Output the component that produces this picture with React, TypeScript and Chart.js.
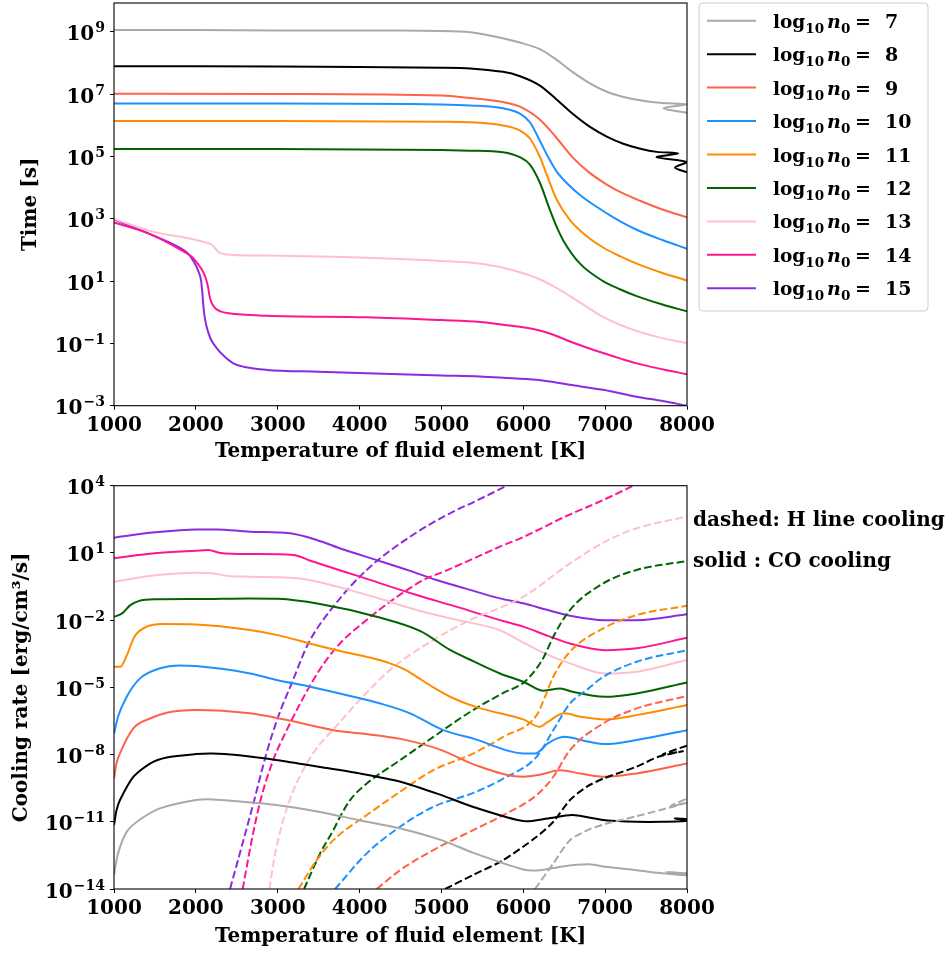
import React, { useEffect, useRef } from "react";
import { Chart, registerables } from "chart.js";

Chart.register(...registerables);

const FONT_FAMILY = '"DejaVu Serif", "Liberation Serif", serif';

// ---- categories / labels ----
const DENSITIES = [7, 8, 9, 10, 11, 12, 13, 14, 15];
const COLORS = ["#a9a9a9", "#000000", "#ff6347", "#1e90ff", "#ff8c00", "#006400", "#ffc0cb", "#ff1493", "#8a2be2"];
const X_TICKS = [1000, 2000, 3000, 4000, 5000, 6000, 7000, 8000];
const TIME_TICK_EXPONENTS = [-3, -1, 1, 3, 5, 7, 9];
const RATE_TICK_EXPONENTS = [-14, -11, -8, -5, -2, 1, 4];
const X_TITLE = "Temperature of fluid element [K]";
const TIME_TITLE = "Time [s]";
const RATE_TITLE = "Cooling rate [erg/cm\u00b3/s]";
const NOTE_DASHED = "dashed: H line cooling";
const NOTE_SOLID = "solid : CO cooling";

type Pt = [number, number]; // [temperature (K), log10 of value]

// ---- top panel: time [s] (log10) ----
const time7: Pt[] = [[1000, 9.06], [2000, 9.06], [3000, 9.05], [4000, 9.05], [5000, 9.03], [5350, 8.99], [5750, 8.8], [5960, 8.66], [6204, 8.45], [6400, 8.12], [6600, 7.72], [6815, 7.35], [7020, 7.08], [7200, 6.93], [7426, 6.81], [7700, 6.72], [8000, 6.68], [7710, 6.55], [8000, 6.4]];
const time8: Pt[] = [[1000, 7.9], [3000, 7.89], [5000, 7.85], [5350, 7.83], [5752, 7.72], [5960, 7.58], [6204, 7.28], [6400, 6.85], [6600, 6.38], [6815, 5.95], [7020, 5.64], [7222, 5.41], [7430, 5.25], [7630, 5.15], [7894, 5.1], [7630, 4.98], [8000, 4.82], [7853, 4.65], [8000, 4.49]];
const time9: Pt[] = [[1000, 7.02], [3000, 7.01], [5000, 6.96], [5350, 6.88], [5752, 6.75], [5960, 6.6], [6204, 6.18], [6400, 5.62], [6611, 4.95], [6800, 4.5], [7019, 4.1], [7200, 3.84], [7426, 3.58], [7700, 3.3], [8000, 3.05]];
const time10: Pt[] = [[1000, 6.7], [3000, 6.7], [5000, 6.67], [5350, 6.64], [5752, 6.55], [5960, 6.38], [6081, 6.1], [6204, 5.5], [6300, 5.0], [6400, 4.55], [6530, 4.15], [6700, 3.75], [6900, 3.38], [7100, 3.05], [7385, 2.65], [7700, 2.32], [8000, 2.04]];
const time11: Pt[] = [[1000, 6.14], [3000, 6.14], [5000, 6.12], [5350, 6.1], [5752, 6.0], [5957, 5.84], [6081, 5.58], [6204, 4.98], [6300, 4.32], [6408, 3.62], [6570, 2.96], [6772, 2.45], [6975, 2.08], [7180, 1.8], [7385, 1.56], [7700, 1.26], [8000, 1.02]];
const time12: Pt[] = [[1000, 5.24], [3000, 5.24], [5000, 5.21], [5350, 5.19], [5752, 5.14], [5957, 4.98], [6081, 4.74], [6204, 4.15], [6326, 3.28], [6408, 2.74], [6490, 2.3], [6693, 1.56], [6975, 1.0], [7180, 0.74], [7385, 0.52], [7700, 0.25], [8000, 0.03]];
const time13: Pt[] = [[1000, 3.0], [1440, 2.61], [2051, 2.29], [2213, 2.13], [2275, 1.93], [2457, 1.84], [2865, 1.82], [4086, 1.75], [5000, 1.65], [5400, 1.58], [5752, 1.43], [6163, 1.1], [6367, 0.84], [6570, 0.52], [6772, 0.18], [6975, -0.15], [7180, -0.4], [7385, -0.6], [7700, -0.83], [8000, -0.99]];
const time14: Pt[] = [[1000, 2.88], [1440, 2.51], [1806, 2.02], [1950, 1.78], [2010, 1.6], [2070, 1.38], [2120, 1.1], [2150, 0.8], [2165, 0.55], [2190, 0.32], [2240, 0.12], [2300, 0.03], [2400, -0.03], [2865, -0.11], [4086, -0.16], [5000, -0.25], [5471, -0.31], [5752, -0.4], [6163, -0.56], [6367, -0.72], [6570, -0.94], [6772, -1.13], [6975, -1.31], [7180, -1.48], [7385, -1.64], [7700, -1.83], [8000, -1.99]];
const time15: Pt[] = [[1000, 2.98], [1440, 2.51], [1806, 2.07], [1900, 1.9], [1969, 1.65], [2030, 1.32], [2065, 1.0], [2080, 0.6], [2092, 0.2], [2105, -0.1], [2130, -0.45], [2180, -0.85], [2254, -1.15], [2350, -1.42], [2458, -1.64], [2600, -1.76], [2865, -1.85], [3500, -1.91], [4086, -1.96], [5000, -2.03], [5471, -2.06], [5752, -2.1], [6163, -2.17], [6570, -2.33], [6975, -2.49], [7385, -2.71], [7700, -2.85], [8000, -3.0]];

// ---- bottom panel: CO cooling (solid, log10 erg/cm^3/s) ----
const co7: Pt[] = [[1000, -13.38], [1050, -12.41], [1155, -11.45], [1318, -10.9], [1562, -10.4], [2000, -10.03], [2200, -10.0], [2500, -10.08], [3000, -10.26], [3500, -10.55], [4000, -10.93], [4500, -11.3], [5000, -11.82], [5400, -12.4], [6000, -13.13], [6200, -13.16], [6500, -12.98], [6800, -12.9], [7000, -13.01], [7385, -13.16], [7700, -13.3], [8000, -13.38], [7750, -13.25], [8000, -13.3]];
const co8: Pt[] = [[1000, -11.15], [1030, -10.5], [1073, -10.03], [1236, -9.0], [1440, -8.4], [1644, -8.13], [2000, -7.98], [2200, -7.95], [2500, -8.02], [3000, -8.25], [3500, -8.54], [4000, -8.84], [4500, -9.21], [5000, -9.81], [5400, -10.35], [6000, -10.97], [6300, -10.85], [6600, -10.7], [7000, -10.93], [7385, -11.0], [7700, -11.0], [8000, -10.95], [7850, -10.85], [8000, -10.88]];
const co9: Pt[] = [[1000, -9.07], [1030, -8.4], [1073, -7.95], [1236, -6.83], [1440, -6.39], [1644, -6.13], [2000, -6.01], [2661, -6.16], [3100, -6.45], [3679, -6.91], [4000, -7.05], [4500, -7.3], [5000, -7.8], [5400, -8.45], [6000, -8.99], [6200, -8.9], [6450, -8.7], [6700, -8.85], [7000, -8.99], [7385, -8.84], [8000, -8.4]];
const co10: Pt[] = [[1000, -7.06], [1050, -6.3], [1155, -5.42], [1318, -4.6], [1562, -4.15], [1800, -4.02], [2000, -4.05], [2661, -4.38], [3000, -4.68], [3395, -4.97], [4005, -5.49], [4300, -5.77], [4616, -6.16], [5023, -6.91], [5400, -7.3], [6000, -7.95], [6150, -7.95], [6300, -7.5], [6500, -7.21], [6800, -7.43], [7000, -7.53], [7385, -7.35], [8000, -6.91]];
const co11: Pt[] = [[1000, -4.08], [1080, -4.08], [1150, -3.63], [1250, -2.74], [1400, -2.29], [1600, -2.17], [2000, -2.19], [2661, -2.44], [3000, -2.67], [3400, -3.05], [3801, -3.41], [4100, -3.65], [4372, -3.93], [4550, -4.2], [4698, -4.53], [4900, -5.0], [5105, -5.42], [5400, -5.85], [5715, -6.16], [6000, -6.43], [6200, -6.76], [6300, -6.54], [6500, -6.16], [6700, -6.31], [7000, -6.43], [7385, -6.24], [8000, -5.79]];
const co12: Pt[] = [[1000, -1.85], [1100, -1.7], [1200, -1.33], [1300, -1.15], [1500, -1.07], [2000, -1.06], [2661, -1.03], [3000, -1.05], [3500, -1.27], [4209, -1.85], [4750, -2.5], [5105, -3.33], [5400, -3.85], [5715, -4.38], [6000, -4.75], [6250, -5.15], [6450, -5.05], [6600, -5.2], [7000, -5.42], [7385, -5.27], [8000, -4.78]];
const co13: Pt[] = [[1000, -0.29], [1500, 0.0], [2000, 0.12], [2200, 0.09], [2400, -0.03], [2661, -0.06], [3273, -0.14], [3500, -0.3], [3883, -0.66], [4300, -1.1], [4698, -1.55], [5200, -2.0], [5715, -2.45], [6000, -3.0], [6300, -3.55], [6570, -3.93], [7000, -4.38], [7385, -4.3], [8000, -3.78]];
const co14: Pt[] = [[1000, 0.76], [1500, 0.98], [2000, 1.1], [2150, 1.13], [2300, 1.0], [2661, 0.95], [3190, 0.91], [3400, 0.65], [4005, -0.06], [4698, -0.88], [5200, -1.42], [5715, -2.0], [6000, -2.29], [6300, -2.7], [6570, -3.04], [7000, -3.34], [7385, -3.26], [8000, -2.79]];
const co15: Pt[] = [[1000, 1.68], [1500, 1.92], [2000, 2.05], [2255, 2.05], [2661, 1.95], [3150, 1.88], [3476, 1.58], [3800, 1.15], [4209, 0.68], [4600, 0.22], [4942, -0.21], [5350, -0.65], [5715, -1.03], [6000, -1.25], [6300, -1.55], [6570, -1.8], [7000, -2.0], [7385, -2.0], [8000, -1.74]];

// ---- bottom panel: H line cooling (dashed, log10 erg/cm^3/s) ----
const hl7: Pt[] = [[6143, -14], [6367, -12.86], [6570, -11.82], [6800, -11.35], [7000, -11.1], [7385, -10.75], [7700, -10.45], [8000, -10.15], [7800, -10.3], [8000, -9.96]];
const hl8: Pt[] = [[5045, -14], [5400, -13.35], [5756, -12.71], [6163, -11.67], [6367, -11.0], [6570, -10.03], [6774, -9.44], [6977, -9.07], [7385, -8.54], [7650, -8.1], [7950, -7.85], [7700, -8.0], [8000, -7.6]];
const hl9: Pt[] = [[4210, -14], [4495, -13.16], [4902, -12.26], [5400, -11.35], [5756, -10.7], [6163, -9.81], [6367, -8.99], [6570, -7.8], [6977, -6.61], [7385, -5.94], [8000, -5.39]];
const hl10: Pt[] = [[3701, -14], [4088, -12.41], [4495, -11.22], [4902, -10.33], [5400, -9.7], [5756, -9.07], [6163, -8.1], [6367, -6.91], [6570, -5.72], [6774, -5.12], [6977, -4.53], [7385, -3.86], [8000, -3.34]];
const hl11: Pt[] = [[3253, -14], [3477, -12.71], [3680, -11.82], [4088, -10.7], [4495, -9.66], [4902, -8.69], [5349, -8.02], [5756, -7.21], [6163, -6.24], [6265, -5.42], [6367, -4.53], [6570, -3.41], [6977, -2.37], [7385, -1.77], [8000, -1.36]];
const hl12: Pt[] = [[3322, -14], [3518, -12.41], [3680, -11.37], [3762, -10.78], [3884, -10.03], [4088, -9.29], [4495, -8.25], [4902, -7.21], [5349, -6.1], [5756, -5.25], [6000, -4.8], [6163, -4.15], [6253, -3.63], [6367, -2.74], [6570, -1.55], [6977, -0.36], [7385, 0.24], [8000, 0.64]];
const hl13: Pt[] = [[2898, -14], [2950, -12.8], [3000, -11.9], [3069, -10.9], [3192, -9.6], [3354, -8.4], [3500, -7.6], [3700, -6.8], [4005, -5.55], [4412, -4.1], [4900, -2.89], [5349, -2.0], [5715, -1.45], [6000, -0.96], [6570, 0.53], [7000, 1.5], [7385, 2.1], [8000, 2.62]];
const hl14: Pt[] = [[2572, -14], [2700, -11.5], [2800, -9.9], [2950, -8.2], [3110, -6.91], [3270, -5.75], [3435, -4.67], [3600, -3.75], [3801, -2.89], [4050, -2.1], [4290, -1.4], [4500, -0.85], [4779, -0.21], [5050, 0.2], [5349, 0.68], [5715, 1.28], [6000, 1.71], [6500, 2.6], [7000, 3.4], [7344, 4.0]];
const hl15: Pt[] = [[2418, -14], [2703, -10.18], [2866, -7.9], [3007, -6.3], [3171, -4.82], [3374, -3.04], [3679, -1.4], [4087, 0.24], [4616, 1.72], [5105, 2.77], [5400, 3.28], [5695, 3.81], [5800, 4.0]];

const TIME_SERIES = [time7, time8, time9, time10, time11, time12, time13, time14, time15];
const CO_SERIES = [co7, co8, co9, co10, co11, co12, co13, co14, co15];
const H_SERIES = [hl7, hl8, hl9, hl10, hl11, hl12, hl13, hl14, hl15];

const toXY = (s: Pt[]) => s.map(([t, lg]) => ({ x: t, y: Math.pow(10, lg) }));
const isSorted = (s: Pt[]) => s.every((p, i) => i === 0 || p[0] > s[i - 1][0]);
const curveStyle = (s: Pt[]) =>
  isSorted(s) ? { cubicInterpolationMode: "monotone" as const } : { tension: 0.25 };

const font = (size: number, style = "normal") => `${style} bold ${size}px ${FONT_FAMILY}`;
const expText = (e: number) => (e < 0 ? "\u2212" + Math.abs(e) : String(e));

const BASE_SIZE = 20;

function drawPowerLabels(chart: any, exps: number[]) {
  const ys = chart.scales.y;
  const ctx = chart.ctx as CanvasRenderingContext2D;
  const R = ys.right - 9;
  ctx.save();
  ctx.fillStyle = "#000";
  ctx.textAlign = "left";
  ctx.textBaseline = "alphabetic";
  for (const e of exps) {
    const y = ys.getPixelForValue(Math.pow(10, e));
    const et = expText(e);
    ctx.font = font(14);
    const we = ctx.measureText(et).width;
    ctx.font = font(BASE_SIZE);
    const wb = ctx.measureText("10").width;
    ctx.fillText("10", R - we - wb - 1, y + 8.5);
    ctx.font = font(14);
    ctx.fillText(et, R - we, y + 0.5);
  }
  ctx.restore();
}

const framePlugin = {
  id: "frame",
  afterDatasetsDraw(chart: any) {
    const { left, top, right, bottom } = chart.chartArea;
    const ctx = chart.ctx as CanvasRenderingContext2D;
    ctx.save();
    ctx.strokeStyle = "#000";
    ctx.lineWidth = 1.1;
    ctx.strokeRect(left, top, right - left, bottom - top);
    ctx.restore();
  },
};

const timeLabelsPlugin = {
  id: "timeLabels",
  afterDraw(chart: any) {
    drawPowerLabels(chart, TIME_TICK_EXPONENTS);
    // legend
    const ctx = chart.ctx as CanvasRenderingContext2D;
    const { right, top } = chart.chartArea;
    const bx = right + 12;
    const by = top;
    const bw = 229;
    const bh = 308;
    ctx.save();
    ctx.beginPath();
    const r = 4;
    ctx.moveTo(bx + r, by);
    ctx.lineTo(bx + bw - r, by);
    ctx.arcTo(bx + bw, by, bx + bw, by + r, r);
    ctx.lineTo(bx + bw, by + bh - r);
    ctx.arcTo(bx + bw, by + bh, bx + bw - r, by + bh, r);
    ctx.lineTo(bx + r, by + bh);
    ctx.arcTo(bx, by + bh, bx, by + bh - r, r);
    ctx.lineTo(bx, by + r);
    ctx.arcTo(bx, by, bx + r, by, r);
    ctx.closePath();
    ctx.fillStyle = "rgba(255,255,255,0.8)";
    ctx.fill();
    ctx.strokeStyle = "#cccccc";
    ctx.lineWidth = 1;
    ctx.stroke();
    ctx.textBaseline = "alphabetic";
    ctx.textAlign = "left";
    DENSITIES.forEach((n, i) => {
      const cy = by + 17.7 + i * 33.45;
      ctx.strokeStyle = COLORS[i];
      ctx.lineWidth = 2;
      ctx.beginPath();
      ctx.moveTo(bx + 8, cy);
      ctx.lineTo(bx + 57, cy);
      ctx.stroke();
      ctx.fillStyle = "#000";
      let x = bx + 74;
      const base = cy + 7;
      ctx.font = font(18.5);
      ctx.fillText("log", x, base);
      x += ctx.measureText("log").width;
      ctx.font = font(13.5);
      ctx.fillText("10", x, base + 5);
      x = Math.max(x + ctx.measureText("10").width + 3, bx + 126);
      ctx.font = font(19, "italic");
      ctx.fillText("n", x, base);
      x += ctx.measureText("n").width;
      ctx.font = font(13.5);
      ctx.fillText("0", x, base + 5);
      ctx.font = font(19);
      ctx.fillText("=", bx + 156, base);
      ctx.fillText(String(n), bx + 186, base);
    });
    ctx.restore();
  },
};

const rateLabelsPlugin = {
  id: "rateLabels",
  afterDraw(chart: any) {
    drawPowerLabels(chart, RATE_TICK_EXPONENTS);
    const ctx = chart.ctx as CanvasRenderingContext2D;
    const { right, top } = chart.chartArea;
    ctx.save();
    ctx.fillStyle = "#000";
    ctx.textAlign = "left";
    ctx.textBaseline = "alphabetic";
    ctx.font = font(BASE_SIZE);
    ctx.fillText(NOTE_DASHED, right + 6, top + 40.5);
    ctx.fillText(NOTE_SOLID, right + 6, top + 81);
    ctx.restore();
  },
};

function makeConfig(
  datasets: any[],
  yMin: number,
  yMax: number,
  tickExps: number[],
  yTitle: string,
  yTitlePad: number,
  padTop: number,
  xAxisHeight: number,
  xTitlePad: number,
  plugin: any
): any {
  const axisFont = { family: FONT_FAMILY, size: BASE_SIZE, weight: "bold" as const };
  return {
    type: "line",
    data: { datasets },
    options: {
      animation: false,
      responsive: false,
      maintainAspectRatio: false,
      events: [],
      layout: { padding: { left: 0, right: 265, top: padTop, bottom: 0 } },
      plugins: { legend: { display: false }, tooltip: { enabled: false } },
      elements: { point: { radius: 0 }, line: { borderWidth: 2, fill: false } },
      scales: {
        x: {
          type: "linear",
          min: 1000,
          max: 8000,
          afterBuildTicks: (s: any) => {
            s.ticks = X_TICKS.map((v) => ({ value: v }));
          },
          afterFit: (s: any) => {
            s.height = xAxisHeight;
          },
          border: { display: false },
          grid: { drawOnChartArea: false, drawTicks: true, tickLength: 4, color: "#000", lineWidth: 1 },
          ticks: {
            color: "#000",
            padding: 4,
            maxRotation: 0,
            autoSkip: false,
            font: axisFont,
            callback: (v: any) => String(v),
          },
          title: {
            display: true,
            text: X_TITLE,
            color: "#000",
            font: axisFont,
            padding: { top: 0, bottom: xTitlePad },
          },
        },
        y: {
          type: "logarithmic",
          min: yMin,
          max: yMax,
          afterBuildTicks: (s: any) => {
            s.ticks = tickExps.map((e) => ({ value: Math.pow(10, e) }));
          },
          afterFit: (s: any) => {
            s.width = 114;
          },
          border: { display: false },
          grid: { drawOnChartArea: false, drawTicks: true, tickLength: 4, color: "#000", lineWidth: 1 },
          ticks: { display: false },
          title: {
            display: true,
            text: yTitle,
            color: "#000",
            font: axisFont,
            padding: { top: yTitlePad, bottom: 0 },
          },
        },
      },
    },
    plugins: [framePlugin, plugin],
  };
}

function PlotCanvas({ config, top, height }: { config: () => any; top: number; height: number }) {
  const ref = useRef<HTMLCanvasElement | null>(null);
  useEffect(() => {
    if (!ref.current) return;
    const chart = new Chart(ref.current, config());
    return () => chart.destroy();
  }, []);
  return (
    <canvas
      ref={ref}
      width={952}
      height={height}
      style={{ position: "absolute", left: 0, top, width: 952, height, display: "block" }}
    />
  );
}

const topConfig = () =>
  makeConfig(
    TIME_SERIES.map((s, i) => ({
      label: `log10 n0 = ${DENSITIES[i]}`,
      data: toXY(s),
      borderColor: COLORS[i],
      backgroundColor: COLORS[i],
      ...curveStyle(s),
    })),
    1e-3,
    Math.pow(10, 9.93),
    TIME_TICK_EXPONENTS,
    TIME_TITLE,
    19,
    3,
    64.3,
    6,
    timeLabelsPlugin
  );

const bottomConfig = () => {
  const ds: any[] = [];
  DENSITIES.forEach((n, i) => {
    ds.push({
      label: `CO ${n}`,
      data: toXY(CO_SERIES[i]),
      borderColor: COLORS[i],
      backgroundColor: COLORS[i],
      ...curveStyle(CO_SERIES[i]),
    });
    ds.push({
      label: `H ${n}`,
      data: toXY(H_SERIES[i]),
      borderColor: COLORS[i],
      backgroundColor: COLORS[i],
      borderDash: [7.7, 3.3],
      ...curveStyle(H_SERIES[i]),
    });
  });
  return makeConfig(ds, 1e-14, 1e4, RATE_TICK_EXPONENTS, RATE_TITLE, 10, 15.7, 64, 4, rateLabelsPlugin);
};

export default function App() {
  return (
    <div style={{ position: "absolute", left: 0, top: 0, width: 952, height: 953, background: "#fff", overflow: "hidden" }}>
      <PlotCanvas config={topConfig} top={0} height={470} />
      <PlotCanvas config={bottomConfig} top={470} height={483} />
    </div>
  );
}
